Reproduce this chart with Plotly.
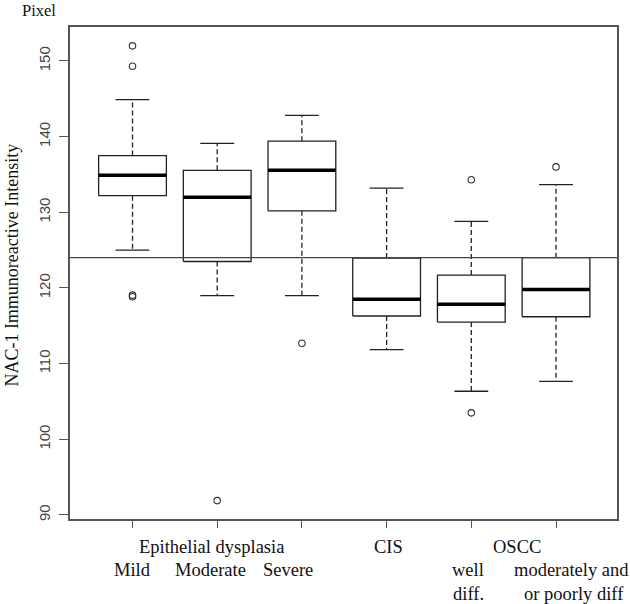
import plotly.graph_objects as go

# ---- data ----
groups = ["Mild", "Moderate", "Severe", "CIS", "well diff.", "moderately and or poorly diff"]
lower_whisker = [125.0, 119.0, 119.0, 111.85, 106.35, 107.65]
q1 = [132.2, 123.5, 130.2, 116.3, 115.5, 116.2]
median = [134.9, 132.0, 135.55, 118.5, 117.85, 119.8]
q3 = [137.5, 135.55, 139.4, 123.95, 121.7, 124.0]
upper_whisker = [144.9, 139.1, 142.8, 133.2, 128.8, 133.65]
outlier_group = [1, 1, 1, 1, 2, 3, 5, 5, 6]
outlier_value = [152.0, 149.3, 119.05, 118.85, 91.9, 112.7, 134.3, 103.5, 136.0]
reference_level = 124.0
y_ticks = [90, 100, 110, 120, 130, 140, 150]

# x label texts (rows under the axis)
label_row1 = ["Epithelial dysplasia", "CIS", "OSCC"]
label_row2 = ["Mild", "Moderate", "Severe", "well", "moderately and"]
label_row3 = ["diff.", "or poorly diff"]

# ---- layout / style constants ----
row1_x = [1.93, 4.02, 5.535]
row2_x = [1.0, 1.915, 2.84, 4.96, 6.18]
row3_x = [4.97, 6.21]
row_shift = [-28, -51, -75]
BOXW = 0.4      # half box width
CAPW = 0.2      # half cap width
SERIF = "Liberation Serif, Times New Roman, serif"
SANS = "Liberation Sans, Arial, sans-serif"
FRAME = "#555555"
LABEL_SIZE = 18.5

pos = list(range(1, len(groups) + 1))

box_x, box_y = [], []
med_x, med_y = [], []
wh_x, wh_y = [], []
cap_x, cap_y = [], []
for p, a, b, c, d, e in zip(pos, lower_whisker, q1, median, q3, upper_whisker):
    box_x += [p - BOXW, p + BOXW, p + BOXW, p - BOXW, p - BOXW, None]
    box_y += [b, b, d, d, b, None]
    med_x += [p - BOXW, p + BOXW, None]
    med_y += [c, c, None]
    wh_x += [p, p, None, p, p, None]
    wh_y += [d, e, None, b, a, None]
    cap_x += [p - CAPW, p + CAPW, None, p - CAPW, p + CAPW, None]
    cap_y += [e, e, None, a, a, None]

fig = go.Figure()
fig.add_trace(go.Scatter(x=wh_x, y=wh_y, mode="lines",
                         line=dict(color="#222222", width=1.3, dash="5px,3px"),
                         hoverinfo="skip"))
fig.add_trace(go.Scatter(x=cap_x, y=cap_y, mode="lines",
                         line=dict(color="#222222", width=1.3), hoverinfo="skip"))
fig.add_trace(go.Scatter(x=box_x, y=box_y, mode="lines", fill="toself",
                         fillcolor="white",
                         line=dict(color="#222222", width=1.3), hoverinfo="skip"))
fig.add_trace(go.Scatter(x=med_x, y=med_y, mode="lines",
                         line=dict(color="#000000", width=3.5), hoverinfo="skip"))
fig.add_trace(go.Scatter(x=outlier_group, y=outlier_value, mode="markers",
                         marker=dict(symbol="circle-open", size=6.5,
                                     color="#333333", line=dict(width=1.1)),
                         hoverinfo="skip"))

fig.add_shape(type="line", xref="paper", x0=0, x1=1, yref="y",
              y0=reference_level, y1=reference_level,
              line=dict(color="#444444", width=1.3))

annotations = []
for row, xs, shift in zip([label_row1, label_row2, label_row3],
                          [row1_x, row2_x, row3_x], row_shift):
    for t, x in zip(row, xs):
        annotations.append(dict(text=t, x=x, xref="x", y=0, yref="paper",
                                yanchor="middle", yshift=shift, showarrow=False,
                                font=dict(family=SERIF, size=LABEL_SIZE,
                                          color="#111111")))
annotations.append(dict(text="NAC-1 Immunoreactive Intensity", textangle=-90,
                        x=0, xref="paper", xanchor="center", xshift=-58,
                        y=0.515, yref="paper", yanchor="middle", showarrow=False,
                        font=dict(family=SERIF, size=18, color="#111111")))
annotations.append(dict(text="Pixel", x=0, xref="paper", xanchor="left",
                        xshift=-50, y=1, yref="paper", yanchor="middle",
                        yshift=17, showarrow=False,
                        font=dict(family=SERIF, size=16.5, color="#111111")))

fig.update_layout(
    width=630, height=604,
    margin=dict(l=70, r=13, t=27, b=85),
    paper_bgcolor="white", plot_bgcolor="white",
    showlegend=False,
    annotations=annotations,
    xaxis=dict(range=[0.262, 6.72], tickvals=pos, ticktext=[""] * len(pos),
               ticks="outside", ticklen=7, tickcolor=FRAME, tickwidth=1.3,
               showline=True, linecolor=FRAME, linewidth=1.6, mirror=True,
               showgrid=False, zeroline=False),
    yaxis=dict(range=[89.47, 154.49], tickvals=y_ticks,
               ticks="outside", ticklen=9, tickcolor=FRAME, tickwidth=1.3,
               tickangle=-90, ticklabelstandoff=3,
               tickfont=dict(family=SANS, size=15, color="#444444"),
               showline=True, linecolor=FRAME, linewidth=1.6, mirror=True,
               showgrid=False, zeroline=False),
)

# remove the page's default body margin so the 630x604 figure fills the window
fig.write_html(
    "out.html",
    config={"displayModeBar": False},
    post_script="document.body.style.margin='0';document.body.style.overflow='hidden';",
)
